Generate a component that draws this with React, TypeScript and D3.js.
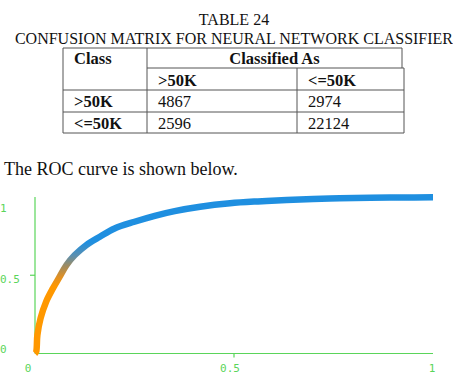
import React from 'react';
import * as d3 from 'd3';

// table contents
const titleLines = ['TABLE 24', 'CONFUSION MATRIX FOR NEURAL NETWORK CLASSIFIER'];
const classLabels = ['>50K', '<=50K'];
const matrixRows = [
    [4867, 2974],
    [2596, 22124],
];
const caption = 'The ROC curve is shown below.';

// ROC curve
const fpr = [0, 0.003, 0.006, 0.014, 0.028, 0.045, 0.062, 0.079, 0.1, 0.129, 0.163, 0.2, 0.25, 0.301, 0.351, 0.415, 0.49, 0.56, 0.632, 0.74, 0.842, 0.92, 1.0];
const tpr = [0, 0.011, 0.118, 0.225, 0.331, 0.416, 0.491, 0.565, 0.629, 0.693, 0.746, 0.799, 0.842, 0.88, 0.91, 0.938, 0.96, 0.972, 0.981, 0.99, 0.995, 0.997, 0.998];
const xTicks = [0, 0.5, 1];
const yTicks = [0, 0.5, 1];

const serif = "'Liberation Serif', 'Times New Roman', serif";
const mono = "'DejaVu Sans Mono', 'Liberation Mono', monospace";
const axisGreen = '#5ad55a';

const RocChart: React.FC = () => {
    const x = d3.scaleLinear().domain([0, 1]).range([35, 433]);
    const y = d3.scaleLinear().domain([0, 1]).range([353.5, 197]);
    // tick labels sit a little off their ticks in the original
    const xLabel = d3.scaleLinear().domain([0, 1]).range([28, 432]);
    const yLabel = d3.scaleLinear().domain([0, 1]).range([353, 212]);

    const pts = fpr.map((f, i) => [f, tpr[i]] as [number, number]);
    const line = d3.line<[number, number]>()
        .x(d => x(d[0]))
        .y(d => y(d[1]))
        .curve(d3.curveCatmullRom.alpha(0.5));

    return (
        <g>
            <defs>
                <linearGradient id="rocGrad" gradientUnits="userSpaceOnUse" x1={0} x2={0} y1={y(0.43)} y2={y(0.71)}>
                    <stop offset="0" stopColor="#ff9800" />
                    <stop offset="0.2" stopColor="#e29022" />
                    <stop offset="0.45" stopColor="#a28c5e" />
                    <stop offset="0.7" stopColor="#5a8fb0" />
                    <stop offset="1" stopColor="#1f8fe0" />
                </linearGradient>
            </defs>
            <line x1={x(0)} x2={x(0)} y1={y(0)} y2={y(1)} stroke={axisGreen} strokeWidth={1.2} />
            <line x1={x(0)} x2={x(1)} y1={y(0)} y2={y(0)} stroke={axisGreen} strokeWidth={1.2} />
            {yTicks.filter(t => t === 0.5).map(t => (
                <line key={t} x1={x(0) - 5} x2={x(0)} y1={y(t)} y2={y(t)} stroke={axisGreen} strokeWidth={1.2} />
            ))}
            {xTicks.filter(t => t === 0.5).map(t => (
                <line key={t} x1={x(t)} x2={x(t)} y1={y(0)} y2={y(0) + 4} stroke={axisGreen} strokeWidth={1.2} />
            ))}
            {yTicks.map(t => (
                <text key={t} x={0} y={yLabel(t)} fill={axisGreen} fontFamily={mono} fontSize={11}>
                    {String(t)}
                </text>
            ))}
            {xTicks.map(t => (
                <text key={t} x={xLabel(t)} y={372} fill={axisGreen} fontFamily={mono} fontSize={11} textAnchor="middle">
                    {String(t)}
                </text>
            ))}
            <path d={line(pts) || ''} fill="none" stroke="url(#rocGrad)" strokeWidth={6.5} strokeLinejoin="round" />
        </g>
    );
};

const ConfusionTable: React.FC = () => {
    const colX = [63, 147, 297, 404];
    const rowY = [48, 68, 90, 112, 133];
    const stroke = '#555';
    const cellText = (txt: string, cx: number, by: number, bold: boolean, key: string) => (
        <text key={key} x={cx} y={by} fontFamily={serif} fontSize={16.5} fontWeight={bold ? 'bold' : 'normal'} fill="#111">
            {txt}
        </text>
    );
    return (
        <g>
            {titleLines.map((t, i) => (
                <text key={t} x={234} y={25 + i * 19} textAnchor="middle" fontFamily={serif} fontSize={16} fill="#111">
                    {t}
                </text>
            ))}
            {/* borders */}
            <line x1={colX[0]} x2={402} y1={rowY[0]} y2={rowY[0]} stroke={stroke} />
            <line x1={colX[1]} x2={colX[3]} y1={rowY[1]} y2={rowY[1]} stroke={stroke} />
            {rowY.slice(2).map(ry => (
                <line key={ry} x1={colX[0]} x2={colX[3]} y1={ry} y2={ry} stroke={stroke} />
            ))}
            <line x1={colX[0]} x2={colX[0]} y1={rowY[0]} y2={rowY[4]} stroke={stroke} />
            <line x1={colX[1]} x2={colX[1]} y1={rowY[0]} y2={rowY[4]} stroke={stroke} />
            <line x1={colX[2]} x2={colX[2]} y1={rowY[1]} y2={rowY[4]} stroke={stroke} />
            <line x1={402} x2={402} y1={rowY[0]} y2={rowY[1]} stroke={stroke} />
            <line x1={colX[3]} x2={colX[3]} y1={rowY[1]} y2={rowY[4]} stroke={stroke} />

            {cellText('Class', 74, 64, true, 'class')}
            <text x={274.5} y={64} textAnchor="middle" fontFamily={serif} fontSize={16.5} fontWeight="bold" fill="#111">
                Classified As
            </text>
            {classLabels.map((c, i) => cellText(c, colX[i + 1] + 11, 86, true, 'h' + i))}
            {matrixRows.map((row, r) => (
                <g key={r}>
                    {cellText(classLabels[r], 74, rowY[r + 2] + 17, true, 'r' + r)}
                    {row.map((v, c) => cellText(String(v), colX[c + 1] + 11, rowY[r + 2] + 17, false, 'v' + r + c))}
                </g>
            ))}
            <text x={4} y={175} fontFamily={serif} fontSize={18} fill="#111">{caption}</text>
        </g>
    );
};

export default function App() {
    return (
        <svg width={453} height={386} style={{ position: 'absolute', left: 0, top: 0, background: '#fff' }}>
            <ConfusionTable />
            <RocChart />
        </svg>
    );
}
